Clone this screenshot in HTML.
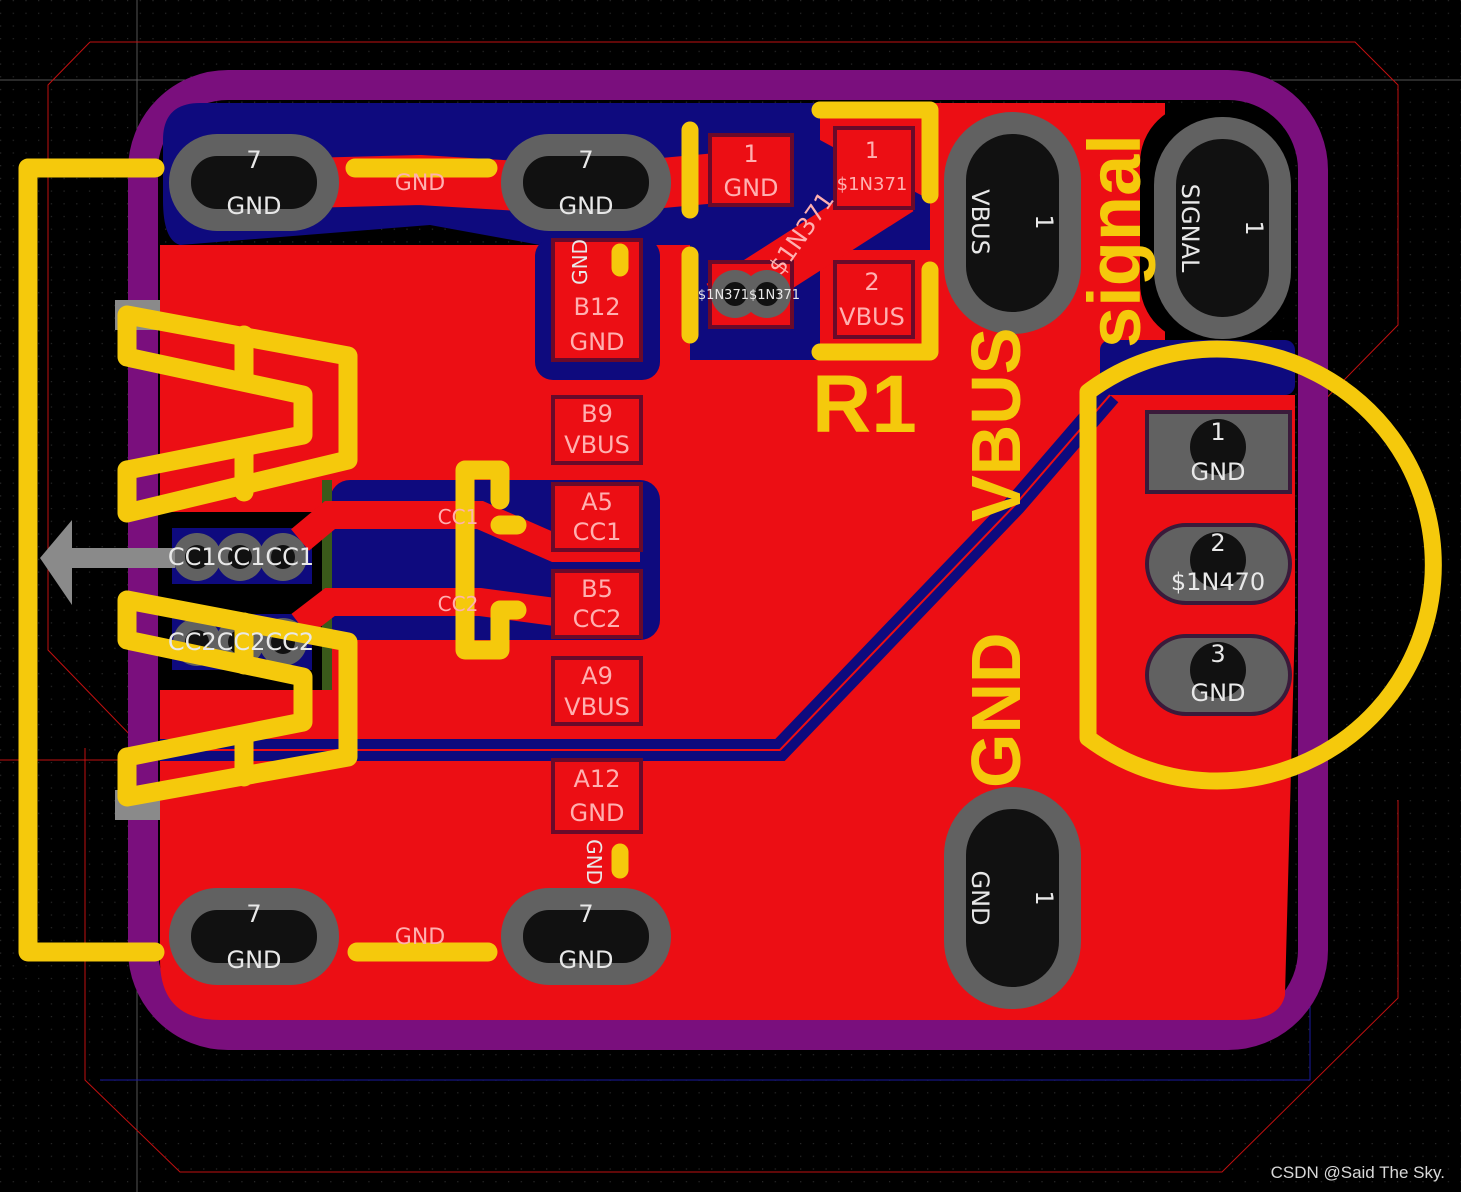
<!DOCTYPE html>
<html><head><meta charset="utf-8"><style>
html,body{margin:0;padding:0;background:#000;}
svg{display:block;font-family:"DejaVu Sans","Liberation Sans",sans-serif;}
</style></head><body>
<svg width="1461" height="1192" viewBox="0 0 1461 1192" xmlns="http://www.w3.org/2000/svg">
<defs>
<pattern id="g" width="12.7" height="12.7" patternUnits="userSpaceOnUse"><rect x="0" y="0" width="1.2" height="1.2" fill="#2a2a2a"/></pattern>
</defs>
<rect width="1461" height="1192" fill="#000"/>
<rect width="1461" height="1192" fill="url(#g)"/>
<g fill="none" stroke-width="1">
<polyline points="0,80 1461,80" stroke="#555"/>
<polyline points="137,0 137,1192" stroke="#555"/>
<polyline points="90,42 1355,42 1398,85 1398,325 1300,425" stroke="#c01010"/>
<polyline points="90,42 48,85 48,650 135,740" stroke="#c01010"/>
<polyline points="85,748 85,1080 180,1172 1222,1172 1398,998 1398,800" stroke="#c01010"/>
<polyline points="100,1080 1310,1080 1310,400" stroke="#1a1aa0"/>
<polyline points="0,760 770,760" stroke="#c01010"/>
</g>
<rect x="143" y="85" width="1170" height="950" rx="85" fill="none" stroke="#7a0f7d" stroke-width="30"/>
<path d="M160,245 L160,960 Q160,1020 220,1020 L1240,1020 Q1280,1020 1285,995 L1295,620 L1295,395 L1165,395 L1165,103 L810,103 L810,245 Z" fill="#ec0e14"/>
<path d="M200,103 L690,103 L690,245 L540,245 L430,225 L180,245 Q163,240 163,200 L163,140 Q163,103 200,103 Z" fill="#0e0a7e"/>
<rect x="535" y="238" width="125" height="142" rx="18" fill="#0e0a7e"/>
<path d="M690,103 L820,103 L820,140 L930,200 L930,250 L820,250 L820,360 L690,360 Z" fill="#0e0a7e"/>
<rect x="1140" y="103" width="155" height="240" rx="60" fill="#000"/>
<rect x="1100" y="340" width="195" height="55" rx="10" fill="#0e0a7e"/>
<polyline points="230,185 420,180 586,190 750,175" fill="none" stroke="#ec0e14" stroke-width="50" stroke-linejoin="round"/>
<polyline points="720,305 900,190" fill="none" stroke="#ec0e14" stroke-width="50"/>
<rect x="160" y="512" width="170" height="178" fill="#000"/>
<rect x="172" y="528" width="140" height="56" fill="#0e0a7e"/>
<rect x="172" y="614" width="140" height="56" fill="#0e0a7e"/>
<rect x="330" y="480" width="330" height="160" rx="20" fill="#0e0a7e"/>
<rect x="322" y="480" width="10" height="210" fill="#3a5a1a"/>
<polyline points="300,540 330,515 480,515 555,548 640,548" fill="none" stroke="#ec0e14" stroke-width="28"/>
<polyline points="300,625 330,602 480,602 555,612 640,612" fill="none" stroke="#ec0e14" stroke-width="28"/>
<polyline points="1110,395 1015,505 780,750 160,750" fill="none" stroke="#0e0a7e" stroke-width="22"/>
<polyline points="1110,395 1015,505 780,750 160,750" fill="none" stroke="#ec0e14" stroke-width="2"/>
<rect x="1130" y="395" width="165" height="230" fill="#ec0e14"/>
<g fill="#111" stroke="#616161" stroke-width="22">
<rect x="955" y="123" width="115" height="200" rx="57"/>
<rect x="1165" y="128" width="115" height="200" rx="57"/>
<rect x="955" y="798" width="115" height="200" rx="57"/>
<rect x="180" y="145" width="148" height="75" rx="37"/>
<rect x="512" y="145" width="148" height="75" rx="37"/>
<rect x="180" y="899" width="148" height="75" rx="37"/>
<rect x="512" y="899" width="148" height="75" rx="37"/>
</g>
<rect x="1147" y="412" width="143" height="80" fill="#616161" stroke="#3a1a3a" stroke-width="4"/>
<rect x="1147" y="525" width="143" height="78" rx="39" fill="#616161" stroke="#3a1a3a" stroke-width="4"/>
<rect x="1147" y="636" width="143" height="78" rx="39" fill="#616161" stroke="#3a1a3a" stroke-width="4"/>
<circle cx="1218" cy="447" r="28" fill="#111"/><circle cx="1218" cy="560" r="28" fill="#111"/><circle cx="1218" cy="670" r="28" fill="#111"/>
<g fill="#ec0e14" stroke="#6a0a2a" stroke-width="4">
<rect x="553" y="240" width="88" height="120"/>
<rect x="553" y="397" width="88" height="66"/>
<rect x="553" y="484" width="88" height="66"/>
<rect x="553" y="571" width="88" height="66"/>
<rect x="553" y="658" width="88" height="66"/>
<rect x="553" y="760" width="88" height="72"/>
<rect x="710" y="135" width="82" height="70"/>
<rect x="835" y="128" width="78" height="80"/>
<rect x="835" y="262" width="78" height="75"/>
<rect x="710" y="262" width="82" height="65"/>
</g>
<g fill="#616161"><circle cx="735" cy="294" r="24"/><circle cx="767" cy="294" r="24"/>
<circle cx="197" cy="557" r="24"/><circle cx="240" cy="557" r="24"/><circle cx="283" cy="557" r="24"/>
<circle cx="197" cy="642" r="24"/><circle cx="240" cy="642" r="24"/><circle cx="283" cy="642" r="24"/></g>
<g fill="#111"><circle cx="735" cy="294" r="12"/><circle cx="767" cy="294" r="12"/>
<circle cx="197" cy="557" r="12"/><circle cx="240" cy="557" r="12"/><circle cx="283" cy="557" r="12"/>
<circle cx="197" cy="642" r="12"/><circle cx="240" cy="642" r="12"/><circle cx="283" cy="642" r="12"/></g>
<polygon points="40,558 72,520 72,548 175,548 175,568 72,568 72,605" fill="#8a8a8a"/>
<rect x="115" y="300" width="45" height="30" fill="#8a8a8a"/><rect x="115" y="790" width="45" height="30" fill="#8a8a8a"/>
<g fill="none" stroke="#f5c90c" stroke-width="19" stroke-linejoin="round" stroke-linecap="round">
<polyline points="155,168 28,168 28,952 155,952"/>
<line x1="355" y1="168" x2="488" y2="168"/><line x1="357" y1="952" x2="488" y2="952"/>
<polygon points="127,315 348,356 348,460 127,513 127,470 303,435 303,395 127,357"/>
<line x1="244" y1="335" x2="244" y2="378"/><line x1="244" y1="450" x2="244" y2="492"/>
<polygon points="127,600 348,642 348,757 127,797 127,757 303,722 303,677 127,640"/>
<line x1="244" y1="622" x2="244" y2="665"/><line x1="244" y1="735" x2="244" y2="777"/>
<polyline points="500,500 500,470 465,470 465,650 500,650 500,610 517,610"/>
<line x1="500" y1="525" x2="517" y2="525"/>
</g>
<g fill="none" stroke="#f5c90c" stroke-width="17" stroke-linejoin="round" stroke-linecap="round">
<polyline points="690,210 690,130 Q690,108 712,108 L790,108 Q812,108 812,130 L812,210"/>
<polyline points="690,255 690,335 Q690,355 712,355 L790,355 Q812,355 812,335 L812,255"/>
<polyline points="820,110 930,110 930,195"/>
<polyline points="820,352 930,352 930,270"/>
<line x1="620" y1="252" x2="620" y2="268"/><line x1="620" y1="852" x2="620" y2="870"/>
<path d="M1088,392 A216,216 0 1,1 1088,738 Z"/>
</g>
<g fill="#f5c90c" font-family="Liberation Sans,sans-serif" font-weight="bold">
<text x="812" y="432" font-size="82">R1</text>
<text transform="translate(1020,522) rotate(-90)" font-size="70">VBUS</text>
<text transform="translate(1020,788) rotate(-90)" font-size="70">GND</text>
<text transform="translate(1140,348) rotate(-90)" font-size="74">signal</text>
</g>
<g fill="#ffb0b0" font-size="24" text-anchor="middle">
<text x="597" y="315">B12</text><text x="597" y="350">GND</text>
<text x="597" y="422">B9</text><text x="597" y="453">VBUS</text>
<text x="597" y="510">A5</text><text x="597" y="540">CC1</text>
<text x="597" y="597">B5</text><text x="597" y="627">CC2</text>
<text x="597" y="684">A9</text><text x="597" y="715">VBUS</text>
<text x="597" y="787">A12</text><text x="597" y="821">GND</text>
<text x="751" y="162">1</text><text x="751" y="196">GND</text>
<text x="872" y="158" font-size="22">1</text><text x="872" y="190" font-size="18">$1N371</text>
<text x="872" y="290">2</text><text x="872" y="325">VBUS</text>
<text transform="translate(808,238) rotate(-55)" font-size="24">$1N371</text>
<text x="420" y="190" font-size="22">GND</text><text x="420" y="944" font-size="22">GND</text>
<text x="458" y="524" font-size="20">CC1</text><text x="458" y="611" font-size="20">CC2</text>
</g>
<g fill="#e8e8e8" font-size="24" text-anchor="middle">
<text x="254" y="168">7</text><text x="254" y="214">GND</text>
<text x="586" y="168">7</text><text x="586" y="214">GND</text>
<text x="254" y="922">7</text><text x="254" y="968">GND</text>
<text x="586" y="922">7</text><text x="586" y="968">GND</text>
<text x="1218" y="440">1</text><text x="1218" y="480">GND</text>
<text x="1218" y="551">2</text><text x="1218" y="590">$1N470</text>
<text x="1218" y="662">3</text><text x="1218" y="701">GND</text>
<text x="749" y="299" font-size="13">$1N371$1N371</text>
<text x="241" y="565">CC1CC1CC1</text>
<text x="241" y="650">CC2CC2CC2</text>
<text transform="translate(972,222) rotate(90)">VBUS</text>
<text transform="translate(1036,222) rotate(90)">1</text>
<text transform="translate(1182,228) rotate(90)">SIGNAL</text>
<text transform="translate(1246,228) rotate(90)">1</text>
<text transform="translate(972,898) rotate(90)">GND</text>
<text transform="translate(1036,898) rotate(90)">1</text>
<text transform="translate(587,262) rotate(-90)" font-size="20">GND</text>
<text transform="translate(587,862) rotate(90)" font-size="20">GND</text>
</g>
<text x="1445" y="1178" fill="#d8d8d8" font-size="17" text-anchor="end" font-family="Liberation Sans,sans-serif">CSDN @Said The Sky.</text>
</svg>
</body></html>
